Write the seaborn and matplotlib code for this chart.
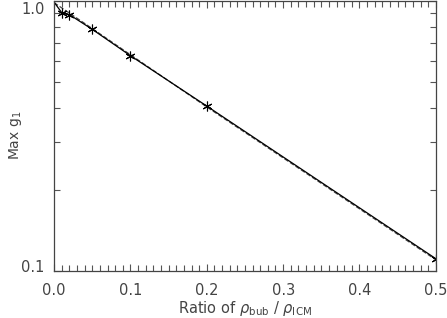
import numpy as np
import pandas as pd
import seaborn as sns
import matplotlib
matplotlib.use("Agg")
import matplotlib.pyplot as plt
import matplotlib.transforms as mtransforms
from matplotlib.ticker import MultipleLocator, FixedLocator, NullFormatter

# density ratio rho_bub / rho_ICM and the measured max growth g1
ratio = [0.0, 0.01, 0.02, 0.05, 0.1, 0.2, 0.5]
max_g1 = [0.99, 0.905, 0.89, 0.785, 0.627, 0.408, 0.111]

# points that carry a marker (the ratio=0 start has none)
marked_ratio = [0.01, 0.02, 0.05, 0.1, 0.2, 0.5]
marked_g1 = [0.905, 0.89, 0.785, 0.627, 0.408, 0.111]

# dashed comparison curve
fit_ratio = [0.0, 0.05, 0.1, 0.2, 0.5]
fit_g1 = [0.985, 0.79, 0.632, 0.405, 0.11]

sns.set_style("ticks")
plt.rcParams["font.family"] = ["DejaVu Sans"]
plt.rcParams["xtick.direction"] = "in"
plt.rcParams["ytick.direction"] = "in"

df = pd.DataFrame({"ratio": ratio, "g1": max_g1})
df_pts = pd.DataFrame({"ratio": marked_ratio, "g1": marked_g1})
df_fit = pd.DataFrame({"ratio": fit_ratio, "g1": fit_g1})

fig = plt.figure(figsize=(4.47, 3.18), dpi=100)
ax = fig.add_axes([0.121, 0.148, 0.854, 0.849])

sns.lineplot(data=df_fit, x="ratio", y="g1", ax=ax, color="#444444",
             linestyle="--", linewidth=0.9)
sns.lineplot(data=df, x="ratio", y="g1", ax=ax, color="black", linewidth=0.9)
ax.plot(df_pts["ratio"], df_pts["g1"], linestyle="none", marker=(6, 2, 0),
        markersize=7, markeredgewidth=0.8, color="black")

ax.set_yscale("log")
ax.set_xlim(0, 0.5)
ax.set_ylim(0.1, 1.0)

ax.xaxis.set_major_locator(MultipleLocator(0.1))
ax.xaxis.set_minor_locator(MultipleLocator(0.01))
ax.set_xticklabels([f"{v:.1f}" for v in ax.get_xticks()])
ax.yaxis.set_major_locator(FixedLocator([0.1, 1.0]))
ax.yaxis.set_minor_locator(FixedLocator([0.2, 0.3, 0.4, 0.5, 0.6, 0.7, 0.8, 0.9]))
ax.yaxis.set_minor_formatter(NullFormatter())
ax.set_yticklabels(["0.1", "1.0"])

ax.tick_params(axis="both", which="both", top=True, right=True,
               color="#555555", width=0.8, labelsize=10.5, labelcolor="#444444")
ax.tick_params(which="major", length=5)
ax.tick_params(which="minor", length=4)
ax.tick_params(axis="x", which="major", pad=9)
ax.tick_params(axis="y", which="major", pad=7)
for s in ax.spines.values():
    s.set_color("#444444")
    s.set_linewidth(0.9)

# nudge the y labels inward as in the reference
ylabels = ax.get_yticklabels()
ylabels[0].set_transform(ylabels[0].get_transform() +
                         mtransforms.ScaledTranslation(0, 5 / 100, fig.dpi_scale_trans))
ylabels[1].set_transform(ylabels[1].get_transform() +
                         mtransforms.ScaledTranslation(0, -7 / 100, fig.dpi_scale_trans))

ax.set_xlabel(r"Ratio of $\rho_{\rm bub}$ / $\rho_{\rm ICM}$", fontsize=10.5,
              color="#444444")
ax.set_ylabel(r"Max g$_1$", fontsize=10, color="#444444")
ax.xaxis.set_label_coords(245 / 447, 1 - 308 / 318, transform=fig.transFigure)
ax.yaxis.set_label_coords(15 / 447, 1 - 135 / 318, transform=fig.transFigure)
ax.xaxis.label.set_va("center")
ax.yaxis.label.set_va("center")

fig.savefig("out.png", dpi=100)
